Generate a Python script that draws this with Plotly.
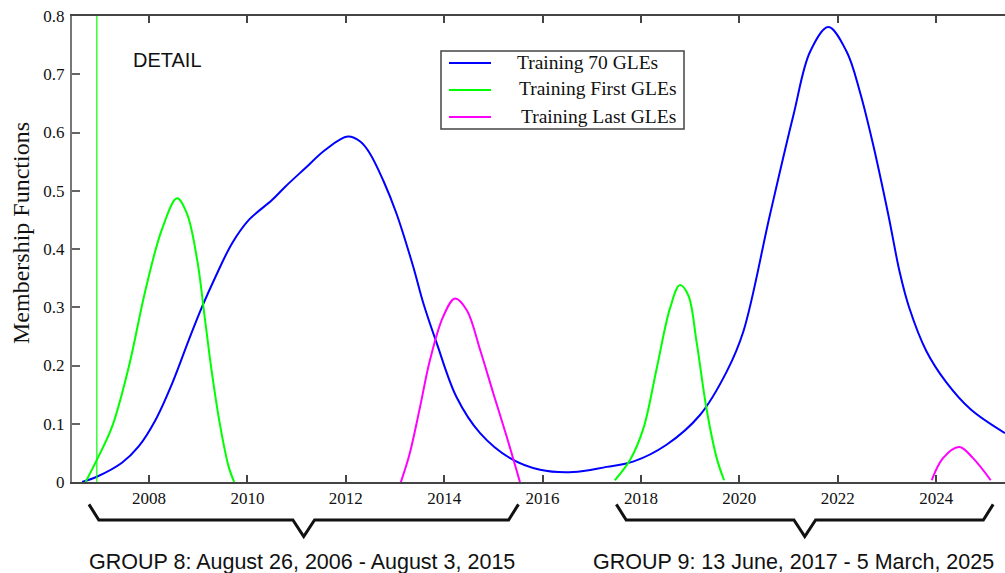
import plotly.graph_objects as go

# ---------------- data ----------------
series_names = ["Training 70 GLEs", "Training First GLEs", "Training Last GLEs"]
series_colors = ["#0000FF", "#00FF00", "#FF00FF"]

blue_x = [2006.64, 2006.94, 2007.45, 2007.79, 2008.13, 2008.47, 2008.81, 2009.08, 2009.35,
          2009.69, 2010.03, 2010.50, 2010.77, 2011.18, 2011.58, 2012.04, 2012.30, 2012.49,
          2012.76, 2013.03, 2013.37, 2013.58, 2013.85, 2014.25, 2014.73, 2015.34, 2015.95,
          2016.62, 2017.30, 2017.84, 2018.52, 2019.20, 2019.74, 2020.08, 2020.62, 2021.10,
          2021.44, 2021.81, 2022.18, 2022.45, 2022.72, 2023.03, 2023.26, 2023.45, 2023.80,
          2024.20, 2024.70, 2025.40]
blue_y = [0.000, 0.009, 0.033, 0.061, 0.106, 0.169, 0.244, 0.301, 0.352,
          0.410, 0.450, 0.484, 0.507, 0.539, 0.570, 0.593, 0.584, 0.564,
          0.518, 0.461, 0.370, 0.306, 0.238, 0.146, 0.084, 0.041, 0.021,
          0.017, 0.026, 0.035, 0.064, 0.115, 0.189, 0.258, 0.458, 0.630,
          0.739, 0.781, 0.739, 0.670, 0.579, 0.458, 0.360, 0.300, 0.225,
          0.172, 0.125, 0.084]

green1_x = [2006.71, 2006.94, 2007.25, 2007.59, 2007.93, 2008.26, 2008.57, 2008.77, 2008.98,
            2009.14, 2009.28, 2009.45, 2009.62, 2009.73]
green1_y = [0.000, 0.038, 0.095, 0.198, 0.330, 0.433, 0.487, 0.461, 0.381,
            0.278, 0.187, 0.095, 0.026, 0.000]
green2_x = [2017.47, 2017.78, 2018.05, 2018.32, 2018.59, 2018.79, 2018.96, 2019.13, 2019.33,
            2019.54, 2019.69]
green2_y = [0.003, 0.038, 0.092, 0.195, 0.298, 0.338, 0.321, 0.241, 0.127,
            0.041, 0.003]

magenta1_x = [2013.12, 2013.30, 2013.51, 2013.71, 2013.98, 2014.22, 2014.46, 2014.73, 2015.00,
              2015.27, 2015.54]
magenta1_y = [0.000, 0.049, 0.129, 0.209, 0.284, 0.315, 0.295, 0.227, 0.152,
              0.078, 0.000]
magenta2_x = [2023.91, 2024.14, 2024.47, 2024.75, 2025.11]
magenta2_y = [0.003, 0.041, 0.060, 0.041, 0.003]

detail_marker_x = 2006.94          # vertical green line
x_range = [2006.435, 2025.40]
y_range = [0.0, 0.8]

x_ticks = [2008, 2010, 2012, 2014, 2016, 2018, 2020, 2022, 2024]
y_ticks = [0, 0.1, 0.2, 0.3, 0.4, 0.5, 0.6, 0.7, 0.8]
y_ticktext = ["0", "0.1", "0.2", "0.3", "0.4", "0.5", "0.6", "0.7", "0.8"]

group_labels = ["GROUP 8: August 26, 2006 - August 3, 2015",
                "GROUP 9: 13 June, 2017 - 5 March, 2025"]
group_start = [2006.78, 2017.50]
group_end = [2015.51, 2025.16]
group_label_x = [2011.12, 2021.10]

SERIF = "Liberation Serif, Times New Roman, serif"
SANS = "Liberation Sans, Arial, sans-serif"

# plot-area geometry helpers (paper coords from pixels)
L, T, B, W, H = 72, 16, 482, 933, 466
def px(xp):
    return (xp - L) / W
def py(yp):
    return (B - yp) / H

fig = go.Figure()
fig.add_trace(go.Scatter(x=blue_x, y=blue_y, mode="lines", name=series_names[0],
                         showlegend=False,
                         line=dict(color=series_colors[0], width=2, shape="spline", smoothing=1.0)))
fig.add_trace(go.Scatter(x=green1_x + [None] + green2_x, y=green1_y + [None] + green2_y,
                         mode="lines", name=series_names[1], connectgaps=False, showlegend=False,
                         line=dict(color=series_colors[1], width=2, shape="spline", smoothing=1.0)))
fig.add_trace(go.Scatter(x=magenta1_x + [None] + magenta2_x, y=magenta1_y + [None] + magenta2_y,
                         mode="lines", name=series_names[2], connectgaps=False, showlegend=False,
                         line=dict(color=series_colors[2], width=2, shape="spline", smoothing=1.0)))
fig.add_trace(go.Scatter(x=[detail_marker_x, detail_marker_x], y=[0, 0.8], mode="lines",
                         showlegend=False, line=dict(color="#00FF00", width=1.2)))

shapes = []
annotations = []

# legend box (drawn by hand to match the original layout)
shapes.append(dict(type="rect", xref="paper", yref="paper", x0=px(441), x1=px(684),
                   y0=py(129), y1=py(51), line=dict(color="#444444", width=1.5),
                   fillcolor="white", layer="above"))
row_y = [63, 90, 117]
text_x = [515, 517, 519]
for name, color, ry, tx in zip(series_names, series_colors, row_y, text_x):
    shapes.append(dict(type="line", xref="paper", yref="paper", x0=px(449), x1=px(491),
                       y0=py(ry), y1=py(ry), line=dict(color=color, width=2), layer="above"))
    annotations.append(dict(text=name, xref="paper", yref="paper", x=px(tx), y=py(ry - 1),
                            xanchor="left", yanchor="middle", showarrow=False,
                            font=dict(family=SERIF, size=19.5, color="#111111")))

# braces under the x axis
y_tip, y_bar, y_point = -0.048, -0.0815, -0.117
for label, x0, x1, lx in zip(group_labels, group_start, group_end, group_label_x):
    inset = 0.2
    mid = (x0 + x1) / 2
    half = 0.22
    path = (f"M{x0},{y_tip} L{x0 + inset},{y_bar} L{mid - half},{y_bar} L{mid},{y_point} "
            f"L{mid + half},{y_bar} L{x1 - inset},{y_bar} L{x1},{y_tip}")
    shapes.append(dict(type="path", path=path, xref="x", yref="paper",
                       line=dict(color="#111111", width=3)))
    annotations.append(dict(text=label, xref="x", yref="paper", x=lx,
                            y=py(562), xanchor="center", yanchor="middle",
                            showarrow=False,
                            font=dict(family=SANS, size=21.5, color="#111111")))

annotations += [
    dict(text="DETAIL", xref="paper", yref="paper", x=px(131), y=py(60),
         xanchor="left", yanchor="middle", showarrow=False,
         font=dict(family=SANS, size=20, color="#111111")),
    dict(text="Membership Functions", xref="paper", yref="paper", x=px(21),
         y=py(233), xanchor="center", yanchor="middle", textangle=-90,
         showarrow=False, font=dict(family=SERIF, size=24, color="#111111")),
]

fig.update_layout(
    width=1005, height=573,
    margin=dict(l=72, r=0, t=16, b=91),
    paper_bgcolor="white", plot_bgcolor="white",
    showlegend=False,
    shapes=shapes,
    annotations=annotations,
    xaxis=dict(range=x_range, tickvals=x_ticks, ticks="inside", ticklen=7, tickwidth=1.5,
               tickcolor="#444444", showline=True, linecolor="#444444", linewidth=2,
               mirror="ticks", showgrid=False, zeroline=False,
               tickfont=dict(family=SERIF, size=17, color="#111111")),
    yaxis=dict(range=y_range, tickvals=y_ticks, ticktext=y_ticktext, ticks="inside",
               ticklen=8, tickwidth=1.5, tickcolor="#666666", showline=True,
               linecolor="#777777", linewidth=2, mirror=False, showgrid=False,
               zeroline=False, ticklabelstandoff=2,
               tickfont=dict(family=SERIF, size=17, color="#111111")),
)

fig.write_html("out.html")
